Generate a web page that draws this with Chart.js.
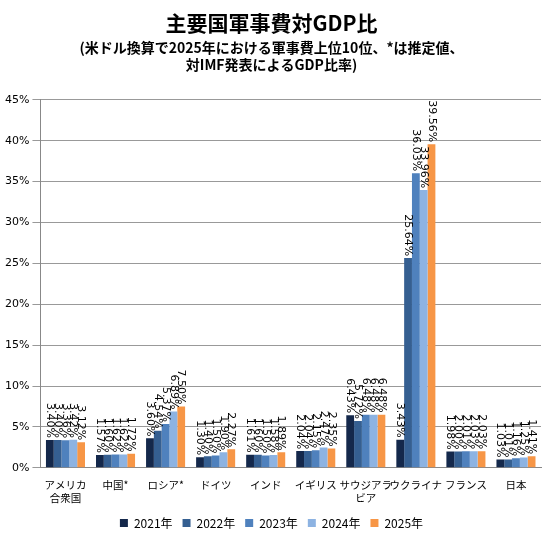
<!DOCTYPE html><html><head><meta charset="utf-8"><script src="https://cdn.jsdelivr.net/npm/chart.js@4"></script>
<style>body{margin:0;background:#fff}#w{width:551px;height:551px}</style></head><body><div id="w"><canvas id="c"></canvas></div><script>
const categories=[["アメリカ","合衆国"],"中国*","ロシア*","ドイツ","インド","イギリス",["サウジアラ","ビア"],"ウクライナ","フランス","日本"];
const years=["2021年","2022年","2023年","2024年","2025年"];
const v2021=[3.40,1.57,3.60,1.30,1.61,2.04,6.43,3.43,1.98,1.03];
const v2022=[3.40,1.60,4.54,1.40,1.60,2.04,5.72,25.64,2.00,1.01];
const v2023=[3.36,1.62,5.37,1.50,1.50,2.15,6.48,36.03,2.01,1.16];
const v2024=[3.42,1.62,6.89,1.90,1.58,2.47,6.48,33.96,2.03,1.25];
const v2025=[3.12,1.72,7.50,2.27,1.89,2.35,6.48,39.56,2.03,1.41];
const colors=["#14284b","#355f91","#4f81bd","#8db3e2","#f79646"];
const series=[v2021,v2022,v2023,v2024,v2025];
const lbl={id:'lbl',afterDatasetsDraw(ch){const c=ch.ctx;c.save();c.font='11px "DejaVu Sans"';c.fillStyle='#000';c.textAlign='right';c.textBaseline='middle';
ch.data.datasets.forEach((d,i)=>{ch.getDatasetMeta(i).data.forEach((b,j)=>{c.save();c.translate(b.x,b.y-2);c.rotate(Math.PI/2);c.fillText(d.data[j].toFixed(2)+'%',0,0);c.restore();});});c.restore();}};
new Chart(document.getElementById('c'),{type:'bar',data:{labels:categories,datasets:series.map((s,i)=>({label:years[i],data:s,backgroundColor:colors[i],barPercentage:1,categoryPercentage:0.78}))},
options:{responsive:true,maintainAspectRatio:false,animation:false,layout:{padding:{left:2,right:10,top:0,bottom:12}},
plugins:{title:{display:true,text:['主要国軍事費対GDP比'],font:{size:21,weight:'bold',family:'"Noto Sans CJK JP"'},color:'#000',padding:{top:10,bottom:2}},
subtitle:{display:true,text:['(米ドル換算で2025年における軍事費上位10位、*は推定値、','対IMF発表によるGDP比率)'],font:{size:14,weight:'bold',family:'"Noto Sans CJK JP"'},color:'#000',padding:{top:2,bottom:27}},
legend:{position:'bottom',labels:{boxWidth:8,boxHeight:8,font:{size:12,family:'"Noto Sans CJK JP"'},color:'#000',padding:10}},tooltip:{enabled:false}},
scales:{x:{grid:{display:false},border:{color:'#888'},ticks:{color:'#000',font:{size:10.5,family:'"Noto Sans CJK JP"'},maxRotation:0,autoSkip:false}},
y:{min:0,max:45,ticks:{stepSize:5,callback:v=>v+'%',color:'#000',font:{size:11,family:'"DejaVu Sans"'}},grid:{color:'#999'},border:{color:'#888'}}}},plugins:[lbl]});
</script></body></html>
